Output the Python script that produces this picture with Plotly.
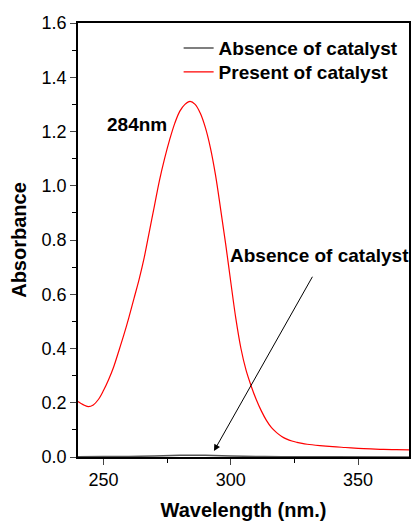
import plotly.graph_objects as go

# Data
wl_present = [240, 242, 244, 246, 248, 250, 252, 254, 256, 258, 260, 262, 264, 266, 268, 270,
              272, 274, 276, 278, 280, 282, 284, 286, 288, 290, 292, 294, 296, 298, 300, 302,
              304, 306, 308, 310, 312, 314, 316, 318, 320, 322, 324, 326, 328, 330, 335, 340,
              345, 350, 355, 360, 365, 370]
abs_present = [0.205, 0.193, 0.186, 0.192, 0.212, 0.245, 0.285, 0.332, 0.39, 0.45, 0.515, 0.585,
               0.655, 0.735, 0.83, 0.925, 1.02, 1.10, 1.17, 1.23, 1.275, 1.30, 1.311, 1.30,
               1.268, 1.215, 1.14, 1.04, 0.915, 0.785, 0.645, 0.51, 0.40, 0.32, 0.262, 0.212,
               0.17, 0.135, 0.108, 0.09, 0.076, 0.066, 0.059, 0.054, 0.050, 0.047, 0.042, 0.038,
               0.035, 0.032, 0.030, 0.028, 0.027, 0.026]

wl_absence = [240, 250, 260, 270, 280, 285, 290, 300, 310, 320, 340, 370]
abs_absence = [0.001, 0.0015, 0.002, 0.004, 0.006, 0.0065, 0.006, 0.004, 0.002, 0.001, 0.0005, 0.0]

x_ticks = [250, 300, 350]
y_ticks = [0.0, 0.2, 0.4, 0.6, 0.8, 1.0, 1.2, 1.4, 1.6]
y_tick_text = ["0.0", "0.2", "0.4", "0.6", "0.8", "1.0", "1.2", "1.4", "1.6"]

FONT = "Arial, Liberation Sans, sans-serif"

fig = go.Figure()
fig.add_trace(go.Scatter(x=wl_absence, y=abs_absence, mode="lines", name="<b>Absence of catalyst</b>",
                         line=dict(color="#555555", width=1.5, shape="spline"), legend="legend"))
fig.add_trace(go.Scatter(x=wl_present, y=abs_present, mode="lines", name="<b>Present of catalyst</b>",
                         line=dict(color="#ff0000", width=1.2, shape="spline"), legend="legend2"))

fig.add_annotation(x=293.4, y=0.022, ax=332.4, ay=0.67, xref="x", yref="y", axref="x", ayref="y",
                   text="", showarrow=True, arrowhead=2, arrowsize=1.3, arrowwidth=1, arrowcolor="black")
fig.add_annotation(x=334.9, y=0.744, xref="x", yref="y", text="<b>Absence of catalyst</b>",
                   showarrow=False, font=dict(family=FONT, size=19, color="black"))
fig.add_annotation(x=263.3, y=1.226, xref="x", yref="y", text="<b>284nm</b>",
                   showarrow=False, font=dict(family=FONT, size=19, color="black"))

legend_common = dict(xanchor="left", yanchor="middle", bgcolor="rgba(0,0,0,0)",
                     font=dict(family=FONT, size=19, color="black"), itemwidth=30)

fig.update_layout(
    width=411, height=523,
    margin=dict(l=78, r=2, t=23, b=66),
    plot_bgcolor="white", paper_bgcolor="white",
    font=dict(family=FONT, size=18, color="black"),
    showlegend=True,
    legend=dict(x=0.304, y=0.942, **legend_common),
    legend2=dict(x=0.304, y=0.887, **legend_common),
    xaxis=dict(range=[240, 370], tickvals=x_ticks, ticks="outside", ticklen=6, tickwidth=1.2,
               showline=True, linecolor="black", linewidth=1.5, mirror=True, showgrid=False,
               zeroline=False, tickfont=dict(size=18), automargin=False,
               minor=dict(tickvals=[275, 325], ticks="outside", ticklen=4, tickcolor="black"),
               title=dict(text="<b>Wavelength (nm.)</b>", font=dict(size=20), standoff=14)),
    yaxis=dict(range=[0, 1.6], tickvals=y_ticks, ticktext=y_tick_text, ticks="outside", ticklen=6,
               tickwidth=1.2, showline=True, linecolor="black", linewidth=1.5, mirror=True,
               showgrid=False, zeroline=False, tickfont=dict(size=18), automargin=False,
               minor=dict(tickvals=[0.1, 0.3, 0.5, 0.7, 0.9, 1.1, 1.3, 1.5], ticks="outside",
                          ticklen=4, tickcolor="black"),
               title=dict(text="<b>Absorbance</b>", font=dict(size=20), standoff=10)),
)

fig.write_html("out.html", config={"displayModeBar": False},
               post_script="document.body.style.margin='0';")
